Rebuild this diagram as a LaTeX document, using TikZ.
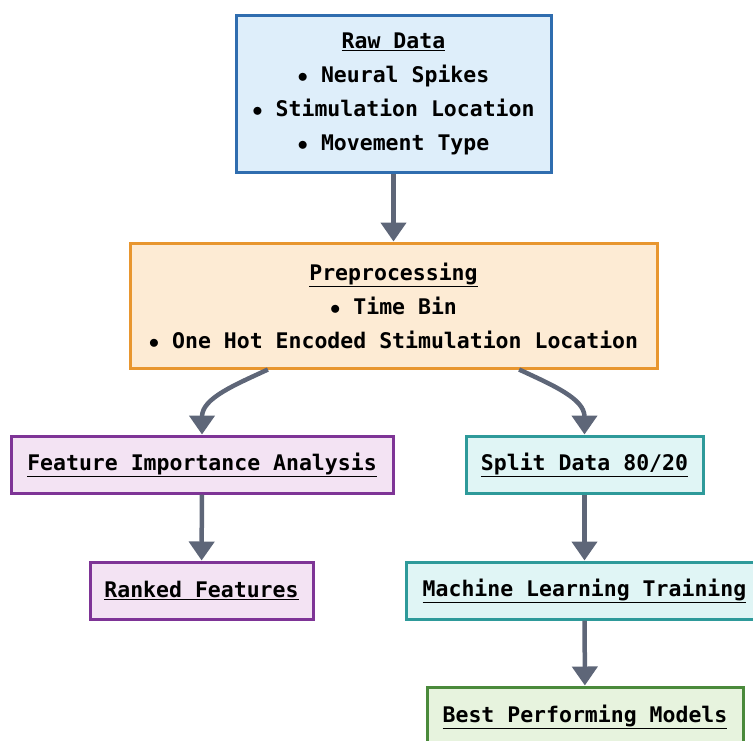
\documentclass[tikz,border=0pt]{standalone}
\usepackage{fontspec}
\setmonofont{DejaVu Sans Mono}
\usepackage{tikz}
\usetikzlibrary{arrows.meta}

\definecolor{rawfill}{HTML}{DEEEFA}
\definecolor{rawline}{HTML}{2F6DAF}
\definecolor{prefill}{HTML}{FDEBD4}
\definecolor{preline}{HTML}{E8962F}
\definecolor{anafill}{HTML}{F3E3F3}
\definecolor{analine}{HTML}{7E3496}
\definecolor{mlfill}{HTML}{E0F5F5}
\definecolor{mlline}{HTML}{2E9A9A}
\definecolor{bestfill}{HTML}{E7F3DE}
\definecolor{bestline}{HTML}{4A8A3B}
\definecolor{arrcol}{HTML}{5E6678}

\newcommand{\ttl}[1]{\underline{#1}}

\tikzset{
  box/.style={draw, line width=3pt, align=center, inner sep=0pt,
    font=\ttfamily\bfseries\fontsize{21.5}{34}\selectfont},
  rawbox/.style={box, draw=rawline, fill=rawfill},
  prebox/.style={box, draw=preline, fill=prefill},
  anabox/.style={box, draw=analine, fill=anafill},
  mlbox/.style={box, draw=mlline, fill=mlfill},
  bestbox/.style={box, draw=bestline, fill=bestfill},
  arr/.style={color=arrcol, line width=4.5pt, -{Triangle[width=25pt,length=19pt]}}
}

\begin{document}
\begin{tikzpicture}[x=1pt,y=1pt]
				\useasboundingbox (0,0) rectangle (753,-740);
				\node[rawbox, minimum width=315, minimum height=157] (raw) at (393.5,-94)
					{\ttl{Raw Data}\\ $\bullet$ Neural Spikes\\ $\bullet$ Stimulation Location\\ $\bullet$ Movement Type};
				\node[prebox, minimum width=527, minimum height=125] (prep) at (393.5,-305.5)
					{\ttl{Preprocessing}\\ $\bullet$ Time Bin\\ $\bullet$ One Hot Encoded Stimulation Location};
				\node[anabox, minimum width=382, minimum height=57] (fia) at (202,-464.5)
					{\ttl{Feature Importance Analysis}};
				\node[anabox, minimum width=223, minimum height=57] (ranked) at (201.5,-590.5)
					{\ttl{Ranked Features}};
				\node[mlbox, minimum width=237, minimum height=57] (split) at (584.5,-464.5)
					{\ttl{Split Data 80/20}};
				\node[mlbox, minimum width=356, minimum height=57] (train) at (584.5,-590.5)
					{\ttl{Machine Learning Training}};
				\node[bestbox, minimum width=316, minimum height=60] (best) at (585,-717)
					{\ttl{Best Performing Models}};
				\path[arr]
				(raw) edge (prep)
				(prep.-153) edge [out=-155, in=90] (fia.north)
				(prep.-27) edge [out=-25, in=90] (split.north)
				(fia) edge (ranked)
				(split) edge (train)
				(train) edge (best);
			\end{tikzpicture}
\end{document}
